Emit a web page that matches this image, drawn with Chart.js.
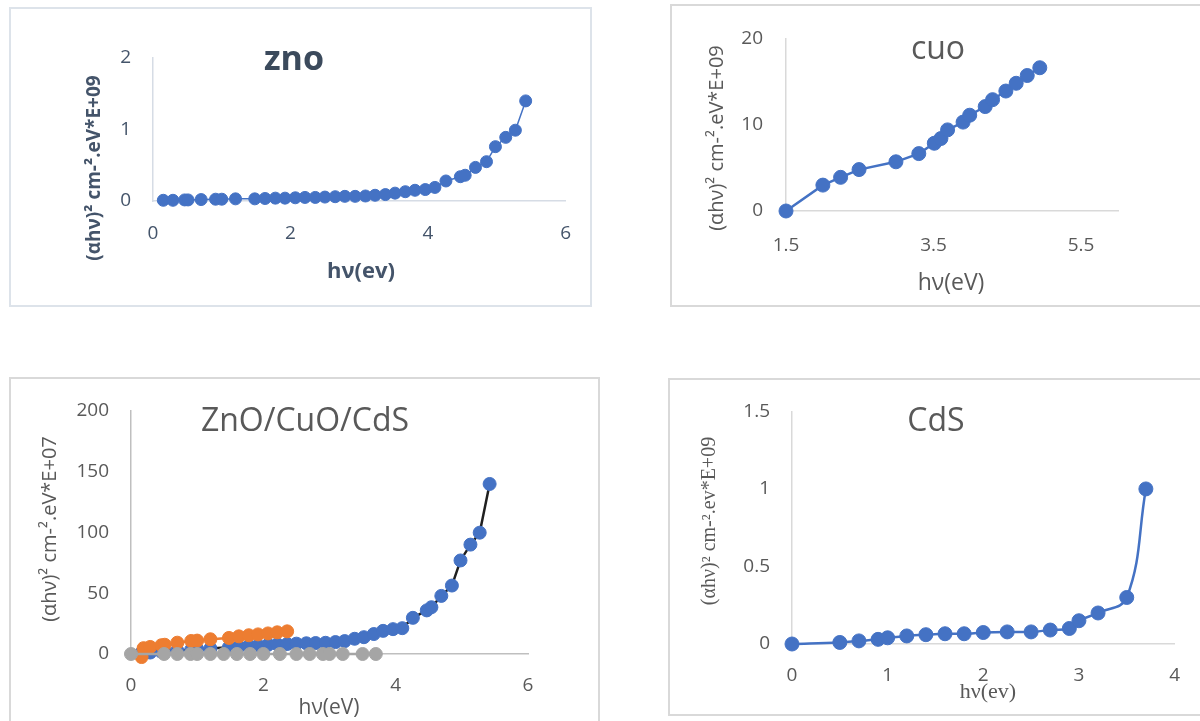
<!DOCTYPE html>
<html><head><meta charset="utf-8">
<script src="https://cdn.jsdelivr.net/npm/chart.js@4.4.1/dist/chart.umd.min.js"></script>
<style>
html,body{margin:0;padding:0;background:#fff;}
body{width:1200px;height:721px;overflow:hidden;position:relative;}
.box{position:absolute;box-sizing:border-box;}
canvas{position:absolute;}
</style></head><body>
<div class="box" style="left:9px;top:7px;width:583px;height:300px;border:2px solid #DDE3EA"></div>
<div class="box" style="left:670px;top:4px;width:540px;height:303px;border:2px solid #D9D9D9"></div>
<div class="box" style="left:9px;top:377px;width:591px;height:370px;border:2px solid #D9D9D9"></div>
<div class="box" style="left:668px;top:378px;width:540px;height:338px;border:2px solid #D9D9D9"></div>
<canvas id="c1" width="583" height="300" style="left:9px;top:7px"></canvas>
<canvas id="c2" width="530" height="303" style="left:670px;top:4px"></canvas>
<canvas id="c3" width="591" height="344" style="left:9px;top:377px"></canvas>
<canvas id="c4" width="532" height="343" style="left:668px;top:378px"></canvas>
<script>
// ---------- DATA ----------
const znoX = [0.15,0.29,0.46,0.51,0.70,0.91,1.00,1.20,1.48,1.63,1.78,1.92,2.07,2.21,2.36,2.50,2.65,2.79,2.94,3.09,3.23,3.38,3.52,3.67,3.81,3.96,4.10,4.26,4.47,4.54,4.69,4.85,4.98,5.13,5.27,5.42];
const znoY = [0.01,0.01,0.015,0.015,0.02,0.025,0.025,0.03,0.03,0.035,0.04,0.04,0.045,0.05,0.05,0.055,0.06,0.065,0.065,0.07,0.08,0.09,0.11,0.13,0.15,0.16,0.19,0.28,0.34,0.36,0.47,0.55,0.76,0.89,0.99,1.40];

const cuoX = [1.5,2.0,2.24,2.49,2.99,3.30,3.51,3.60,3.69,3.90,3.99,4.20,4.30,4.48,4.62,4.77,4.94];
const cuoY = [0,3.0,3.9,4.8,5.7,6.65,7.85,8.4,9.4,10.3,11.1,12.1,12.9,13.9,14.8,15.7,16.6];

const compBlueX = [0.15,0.29,0.46,0.51,0.70,0.91,1.00,1.20,1.48,1.63,1.78,1.92,2.07,2.21,2.36,2.50,2.65,2.79,2.94,3.09,3.23,3.38,3.52,3.67,3.81,3.96,4.10,4.26,4.47,4.54,4.69,4.85,4.98,5.13,5.27,5.42];
const compBlueY = [0.5,1.2,1.8,2,2.8,3.5,4,4.5,5.5,6,6.5,7,7.5,8,8.2,8.5,8.8,9,9.2,9.8,10.6,12.5,13.8,16.4,19,20.4,21.2,29.7,35.8,38.4,47.7,56.2,76.8,89.8,99.6,139.6];
const compOrangeX = [0.16,0.19,0.29,0.46,0.51,0.70,0.91,1.00,1.20,1.48,1.63,1.78,1.92,2.07,2.21,2.36];
const compOrangeY = [-2.5,4.8,5.8,7.2,7.6,9.3,10.7,11.0,12.1,13.2,14.5,15.4,16.1,16.9,17.8,18.6];
const compGrayX = [0,0.5,0.7,0.9,1.0,1.2,1.4,1.6,1.8,2.0,2.25,2.5,2.7,2.9,3.0,3.2,3.5,3.7];
const compGrayY = [0,0,0,0,0,0,0,0,0,0,0,0,0,0,0,0,0,0];

const cdsX = [0,0.5,0.7,0.9,1.0,1.2,1.4,1.6,1.8,2.0,2.25,2.5,2.7,2.9,3.0,3.2,3.5,3.7];
const cdsY = [0,0.01,0.02,0.03,0.04,0.052,0.06,0.066,0.066,0.074,0.078,0.078,0.09,0.10,0.15,0.20,0.30,1.0];

const znoXTicks = [0,2,4,6];   const znoYTicks = [0,1,2];
const cuoXTicks = [1.5,3.5,5.5]; const cuoYTicks = [0,10,20];
const compXTicks = [0,2,4,6];  const compYTicks = [0,50,100,150,200];
const cdsXTicks = [0,1,2,3,4]; const cdsYTicks = [0,0.5,1,1.5];

// ---------- HELPERS ----------
function pts(xs, ys){ return xs.map((x,i)=>({x:x, y:ys[i]})); }
function textPlugin(items){
  return {
    id:'panelText',
    afterDraw(chart){
      const ctx = chart.ctx;
      items.forEach(t=>{
        ctx.save();
        ctx.translate(t.x, t.y);
        if (t.rot) ctx.rotate(t.rot);
        ctx.font = t.font; ctx.fillStyle = t.color;
        ctx.textAlign = 'center'; ctx.textBaseline = 'middle';
        ctx.fillText(t.text, 0, 0);
        ctx.restore();
      });
    }
  };
}
function series(xs, ys, o){
  return Object.assign({
    data: pts(xs, ys), showLine:true, clip:false,
    borderColor:o.color, backgroundColor:o.color,
    pointBackgroundColor:o.color, pointBorderColor:o.color,
    pointBorderWidth:1, pointRadius:o.r, borderWidth:o.lw, tension:0
  }, o.extra || {});
}
function build(id, p){
  return new Chart(document.getElementById(id), {
    type:'scatter',
    data:{datasets:p.datasets},
    options:{
      responsive:false, animation:false, devicePixelRatio:1,
      layout:{padding:{top:p.padTop, right:p.padRight, left:0, bottom:0}},
      plugins:{legend:{display:false}, tooltip:{enabled:false}},
      scales:{
        x:{type:'linear', min:p.xMin, max:p.xMax,
           afterBuildTicks:s=>{ s.ticks = p.xTicks.map(v=>({value:v})); },
           afterFit:s=>{ s.height = p.xAxisH; },
           grid:{display:false, drawTicks:false},
           border:{display:true, color:p.axisColor, width:p.axisW},
           ticks:{padding:p.xTickPad, color:p.tickColor, font:p.tickFont, autoSkip:false, maxRotation:0,
                  callback:v=>String(v)}},
        y:{type:'linear', min:p.yMin, max:p.yMax,
           afterBuildTicks:s=>{ s.ticks = p.yTicks.map(v=>({value:v})); },
           afterFit:s=>{ s.width = p.yAxisW; },
           grid:{display:false, drawTicks:false},
           border:{display:true, color:p.axisColor, width:p.axisW},
           ticks:{padding:p.yTickPad, color:p.tickColor, font:p.tickFont, autoSkip:false,
                  callback:v=>String(v)}}
      }
    },
    plugins:[textPlugin(p.texts)]
  });
}
const SANS = '"Open Sans", "DejaVu Sans", sans-serif';
const SERIF = '"Liberation Serif", "DejaVu Serif", serif';
const G = '#595959', SLATE = '#44546A';
const R = -Math.PI/2;

// ---------- PANEL 1 : zno ----------
build('c1', {
  datasets:[ series(znoX, znoY, {color:'#4472C4', r:6, lw:1.5}) ],
  xMin:0, xMax:6, yMin:0, yMax:2, xTicks:znoXTicks, yTicks:znoYTicks,
  padTop:51, padRight:24, xAxisH:106, yAxisW:144,
  axisColor:'#D6DCE5', axisW:1.5, tickColor:SLATE, tickFont:{family:SANS, size:19},
  xTickPad:21, yTickPad:22,
  texts:[
    {text:'zno', x:285, y:53, font:'bold 34px '+SANS, color:'#3B4A5C'},
    {text:'(αhν)² cm-².eV*E+09', x:86, y:161, rot:R, font:'bold 19px '+SANS, color:SLATE},
    {text:'hν(ev)', x:352, y:265, font:'bold 22px '+SANS, color:SLATE}
  ]
});

// ---------- PANEL 2 : cuo ----------
build('c2', {
  datasets:[ series(cuoX, cuoY, {color:'#4472C4', r:7, lw:2.5}) ],
  xMin:1.5, xMax:6, yMin:0, yMax:20, xTicks:cuoXTicks, yTicks:cuoYTicks,
  padTop:23, padRight:82, xAxisH:96, yAxisW:116,
  axisColor:'#D9D9D9', axisW:1.5, tickColor:G, tickFont:{family:SANS, size:19},
  xTickPad:23, yTickPad:23,
  texts:[
    {text:'cuo', x:268, y:46, font:'32px '+SANS, color:G},
    {text:'(αhν)² cm-².eV*E+09', x:47, y:134, rot:R, font:'20px '+SANS, color:G},
    {text:'hν(eV)', x:281, y:279, font:'23px '+SANS, color:G}
  ]
});

// ---------- PANEL 3 : ZnO/CuO/CdS ----------
build('c3', {
  datasets:[
    series(compBlueX, compBlueY, {color:'#4472C4', r:6.5, lw:2.5, extra:{borderColor:'#1F1F1F', order:3}}),
    series(compOrangeX, compOrangeY, {color:'#ED7D31', r:6.5, lw:2.5, extra:{order:2}}),
    series(compGrayX, compGrayY, {color:'#A5A5A5', r:6.5, lw:2.5, extra:{order:1}})
  ],
  xMin:0, xMax:6, yMin:0, yMax:200, xTicks:compXTicks, yTicks:compYTicks,
  padTop:26, padRight:72, xAxisH:67, yAxisW:122,
  axisColor:'#BFBFBF', axisW:1.5, tickColor:G, tickFont:{family:SANS, size:19},
  xTickPad:20, yTickPad:22,
  texts:[
    {text:'ZnO/CuO/CdS', x:296, y:45, font:'32px '+SANS, color:G},
    {text:'(αhν)² cm-².eV*E+07', x:41, y:152, rot:R, font:'20px '+SANS, color:G},
    {text:'hν(eV)', x:320, y:331, font:'21px '+SANS, color:G}
  ]
});

// ---------- PANEL 4 : CdS ----------
build('c4', {
  datasets:[ series(cdsX, cdsY, {color:'#4472C4', r:7, lw:2.5, extra:{tension:0.4}}) ],
  xMin:0, xMax:4, yMin:0, yMax:1.5, xTicks:cdsXTicks, yTicks:cdsYTicks,
  padTop:15, padRight:16, xAxisH:77, yAxisW:124,
  axisColor:'#D9D9D9', axisW:1.5, tickColor:G, tickFont:{family:SANS, size:19},
  xTickPad:20, yTickPad:22,
  texts:[
    {text:'CdS', x:268, y:44, font:'32px '+SANS, color:G},
    {text:'(αhν)² cm-².ev*E+09', x:42, y:143, rot:R, font:'20px '+SERIF, color:G},
    {text:'hν(ev)', x:320, y:314, font:'22px '+SERIF, color:G}
  ]
});
</script>
</body></html>
